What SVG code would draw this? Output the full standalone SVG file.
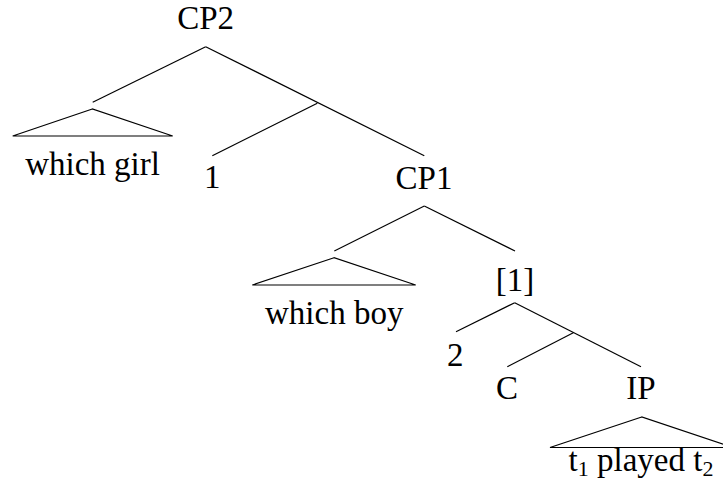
<svg xmlns="http://www.w3.org/2000/svg" width="723" height="496" viewBox="0 0 723 496">
<style>
text{font-family:"Liberation Serif","Times New Roman",serif;font-size:33px;fill:#000;text-anchor:middle}
.sub{font-size:22px}
line,polygon{stroke:#000;stroke-width:1.2;fill:none}
</style>
<rect width="723" height="496" fill="#fff"/>
<g id="connectors">
<line x1="205.7" y1="46.7" x2="92.7" y2="102.3"/>
<line x1="205.7" y1="46.7" x2="424.3" y2="155.7"/>
<line x1="317.3" y1="103.3" x2="212.3" y2="155.7"/>
<line x1="424.3" y1="206" x2="334.3" y2="251"/>
<line x1="424.3" y1="206" x2="515" y2="251"/>
<line x1="514.7" y1="302.7" x2="456" y2="331.7"/>
<line x1="514.7" y1="302.7" x2="641" y2="366.7"/>
<line x1="573.3" y1="332.7" x2="507.3" y2="366.7"/>
</g>
<g id="CP2"><text x="205.7" y="29.3">CP2</text></g>
<g id="which-girl">
<polygon points="92.3,109 12.7,136 172.7,136"/>
<text x="92.5" y="175">which girl</text>
</g>
<g id="n1"><text x="212.2" y="188.3">1</text></g>
<g id="CP1"><text x="424" y="189.3">CP1</text></g>
<g id="which-boy">
<polygon points="334,257.7 252.3,285 415.7,285"/>
<text x="334.2" y="323.5">which boy</text>
</g>
<g id="bracket1"><text x="515" y="290.5">[1]</text></g>
<g id="n2"><text x="455.3" y="366">2</text></g>
<g id="C"><text x="507" y="399">C</text></g>
<g id="IP">
<text x="641" y="399.3">IP</text>
<polygon points="641.7,417 550,447.5 733,447.5"/>
<text x="641" y="471">t<tspan class="sub" dy="5">1</tspan><tspan dy="-5"> played t</tspan><tspan class="sub" dy="5">2</tspan></text>
</g>
</svg>
